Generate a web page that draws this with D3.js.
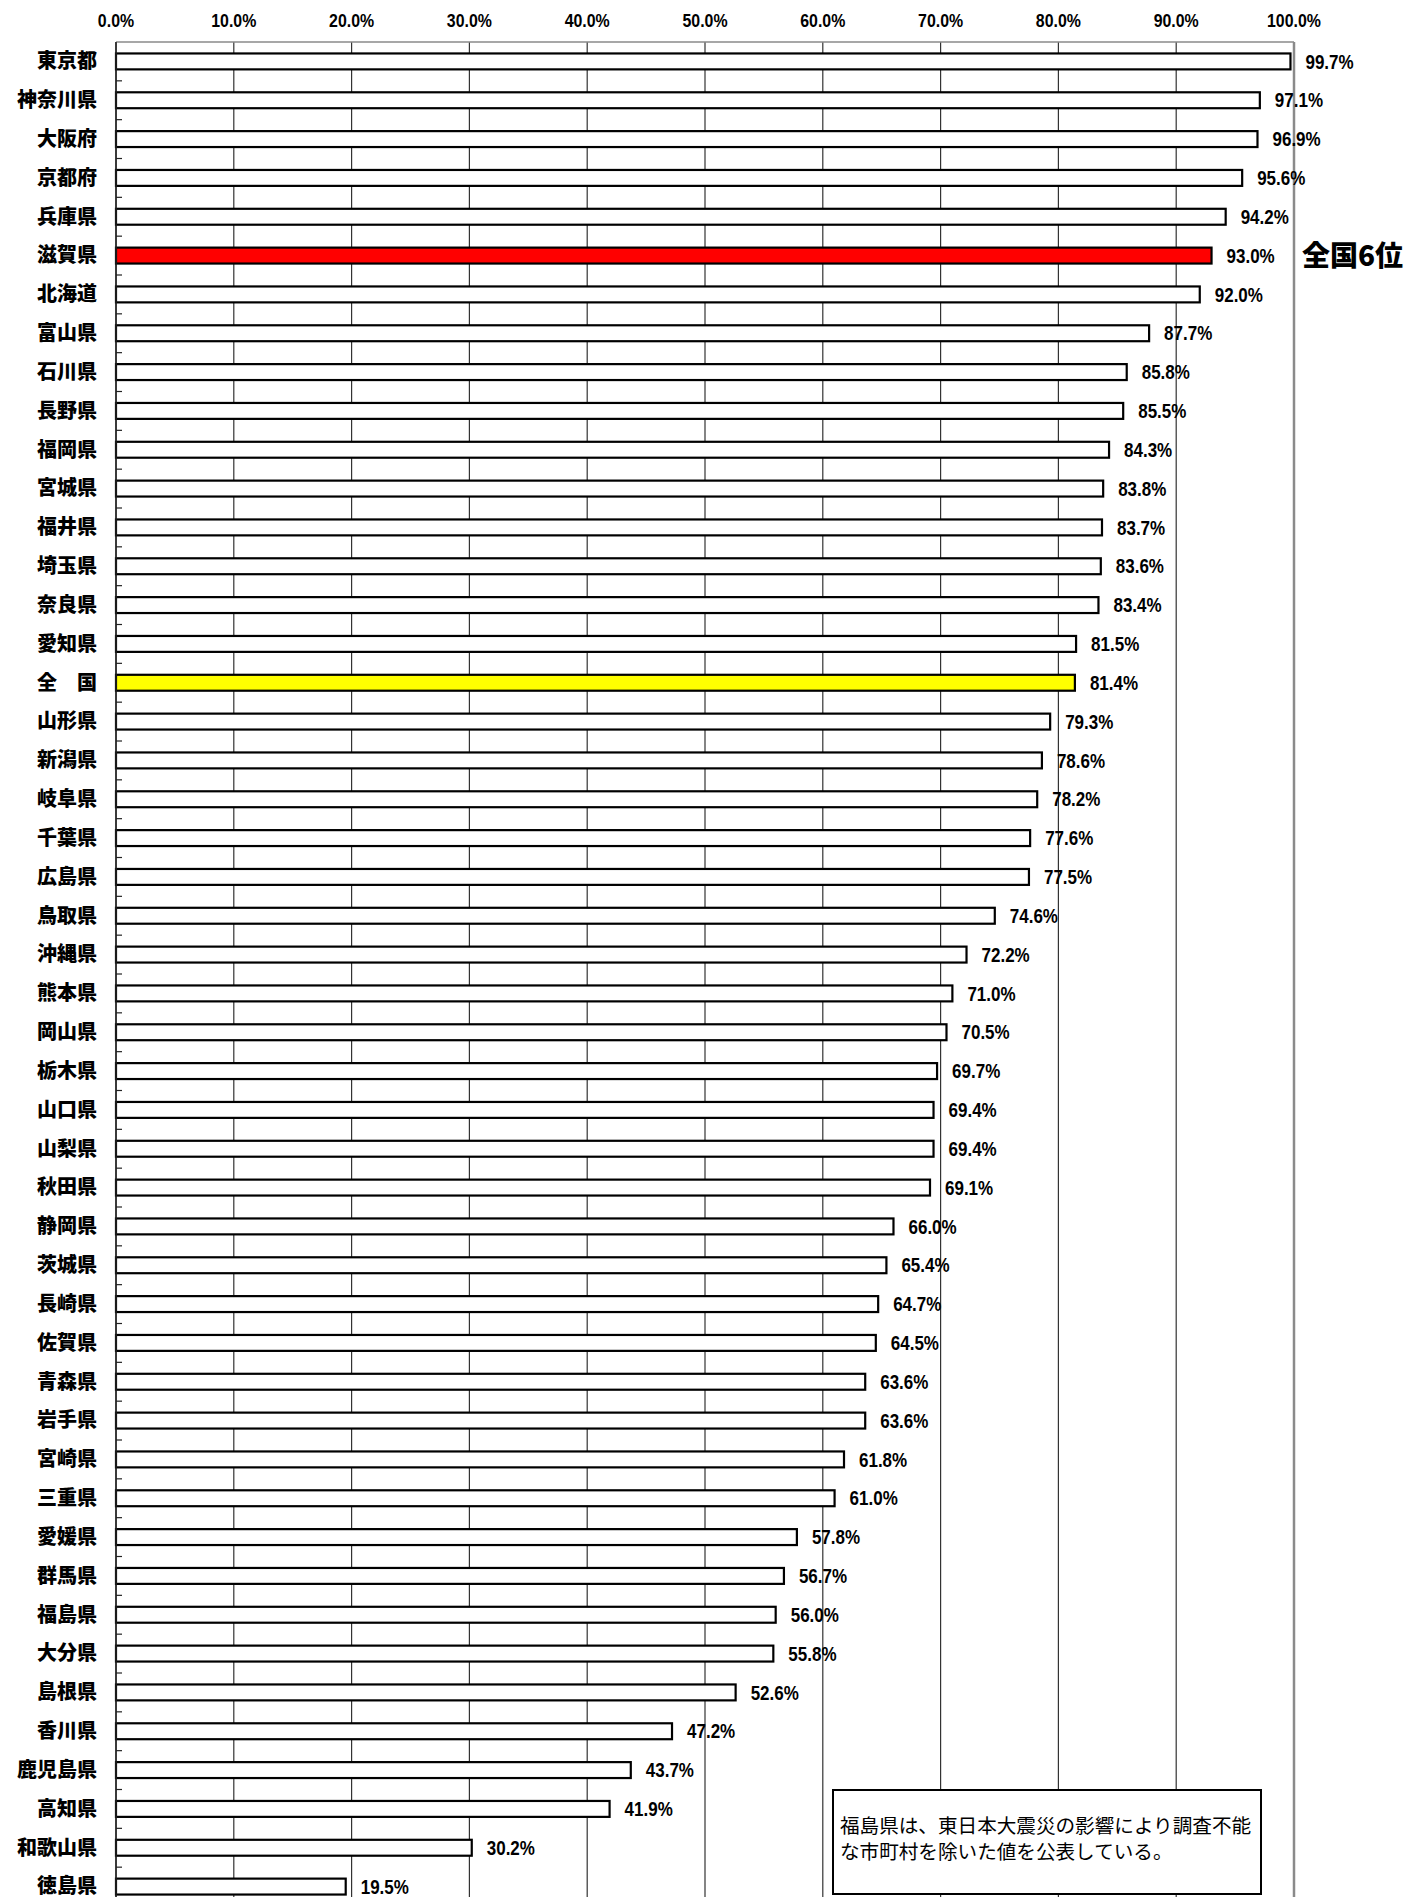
<!DOCTYPE html>
<html>
<head>
<meta charset="utf-8">
<script src="https://cdn.jsdelivr.net/npm/d3@7"></script>
<style>
body {margin:0; background:white;}
text {font-family: "Noto Sans CJK JP", "DejaVu Sans", sans-serif;}
.num {font-family: "Liberation Sans", Arial, sans-serif;}
</style>
</head>
<body>
<svg id="graph"></svg>
<script>
var svgw = 1427
var svgh = 1897

var prefectures = ["東京都","神奈川県","大阪府","京都府","兵庫県","滋賀県","北海道","富山県","石川県","長野県",
    "福岡県","宮城県","福井県","埼玉県","奈良県","愛知県","全　国","山形県","新潟県","岐阜県",
    "千葉県","広島県","鳥取県","沖縄県","熊本県","岡山県","栃木県","山口県","山梨県","秋田県",
    "静岡県","茨城県","長崎県","佐賀県","青森県","岩手県","宮崎県","三重県","愛媛県","群馬県",
    "福島県","大分県","島根県","香川県","鹿児島県","高知県","和歌山県","徳島県"]

var rates = [99.7,97.1,96.9,95.6,94.2,93.0,92.0,87.7,85.8,85.5,
    84.3,83.8,83.7,83.6,83.4,81.5,81.4,79.3,78.6,78.2,
    77.6,77.5,74.6,72.2,71.0,70.5,69.7,69.4,69.4,69.1,
    66.0,65.4,64.7,64.5,63.6,63.6,61.8,61.0,57.8,56.7,
    56.0,55.8,52.6,47.2,43.7,41.9,30.2,19.5]

var tickValues = [0,10,20,30,40,50,60,70,80,90,100]

var highlightShiga = "滋賀県"
var highlightNation = "全　国"
var rankNote = "全国6位"
var noteLines = ["福島県は、東日本大震災の影響により調査不能","な市町村を除いた値を公表している。"]

var margins = {left:116, top:42}
var graphDim = {width:1178, height:1864}

var svg = d3.select("#graph")
    .attr("width",svgw)
    .attr("height",svgh)

var target = svg.append("g")
    .attr("transform","translate("+margins.left+","+margins.top+")")

var xScale = d3.scaleLinear()
    .domain([0,100])
    .range([0,graphDim.width])

var yScale = d3.scaleBand()
    .domain(prefectures)
    .range([0,graphDim.height])
    .paddingInner(0.59)
    .paddingOuter(0.295)

// grid lines
target.selectAll(".grid")
    .data(tickValues)
    .enter()
    .append("line")
    .attr("x1",function(d){return xScale(d)})
    .attr("x2",function(d){return xScale(d)})
    .attr("y1",0)
    .attr("y2",graphDim.height)
    .attr("stroke",function(d){return d==100 ? "#8a8a8a" : "#333"})
    .attr("stroke-width",function(d){return d==100 ? 2.5 : 1.2})

// top border
target.append("line")
    .attr("x1",0).attr("x2",xScale(100))
    .attr("y1",0).attr("y2",0)
    .attr("stroke","#8a8a8a")
    .attr("stroke-width",1.5)

// top axis labels (narrow, like the original gothic digits)
target.selectAll(".tick-label")
    .data(tickValues)
    .enter()
    .append("text")
    .classed("num",true)
    .attr("transform",function(d){return "translate("+xScale(d)+",-15) scale(0.86,1)"})
    .attr("text-anchor","middle")
    .style("font-size","18.5px")
    .style("font-weight","bold")
    .text(function(d){return d.toFixed(1)+"%"})

// bars
target.selectAll(".bar")
    .data(prefectures)
    .enter()
    .append("rect")
    .attr("x",0)
    .attr("y",function(d){return yScale(d)})
    .attr("width",function(d,i){return xScale(rates[i])})
    .attr("height",yScale.bandwidth())
    .attr("fill",function(d)
          {
            if(d==highlightShiga) {return "#ff0000"}
            if(d==highlightNation) {return "#ffff00"}
            return "white"
          })
    .attr("stroke","black")
    .attr("stroke-width",2.2)

// left axis with inner ticks at category boundaries
var step = yScale.step()
target.append("line")
    .attr("x1",0).attr("x2",0)
    .attr("y1",0).attr("y2",graphDim.height)
    .attr("stroke","#222")
    .attr("stroke-width",1.5)

target.selectAll(".cat-tick")
    .data(d3.range(1,prefectures.length))
    .enter()
    .append("line")
    .attr("x1",0).attr("x2",6)
    .attr("y1",function(d){return d*step})
    .attr("y2",function(d){return d*step})
    .attr("stroke","#222")
    .attr("stroke-width",1.2)

// category labels
target.selectAll(".cat-label")
    .data(prefectures)
    .enter()
    .append("text")
    .attr("x",-19)
    .attr("y",function(d){return yScale(d)+yScale.bandwidth()/2})
    .attr("dy","0.34em")
    .attr("text-anchor","end")
    .style("font-size","20px")
    .style("font-weight","900")
    .text(function(d){return d})

// value labels
target.selectAll(".val-label")
    .data(prefectures)
    .enter()
    .append("text")
    .classed("num",true)
    .attr("transform",function(d,i)
          {
            return "translate("+(xScale(rates[i])+15)+","+(yScale(d)+yScale.bandwidth()/2)+") scale(0.85,1)"
          })
    .attr("dy","0.36em")
    .style("font-size","20px")
    .style("font-weight","bold")
    .text(function(d,i){return rates[i].toFixed(1)+"%"})

// rank note
target.append("text")
    .attr("x",xScale(100)+8)
    .attr("y",yScale(highlightShiga)+yScale.bandwidth()/2)
    .attr("dy","0.36em")
    .style("font-size","28px")
    .style("font-weight","900")
    .text(rankNote)

// note box
var note = svg.append("g")
note.append("rect")
    .attr("x",833)
    .attr("y",1790)
    .attr("width",428)
    .attr("height",104)
    .attr("fill","white")
    .attr("stroke","black")
    .attr("stroke-width",2)

note.selectAll("text")
    .data(noteLines)
    .enter()
    .append("text")
    .attr("x",840)
    .attr("y",function(d,i){return 1833+i*26})
    .style("font-size","19.6px")
    .text(function(d){return d})
</script>
</body>
</html>
